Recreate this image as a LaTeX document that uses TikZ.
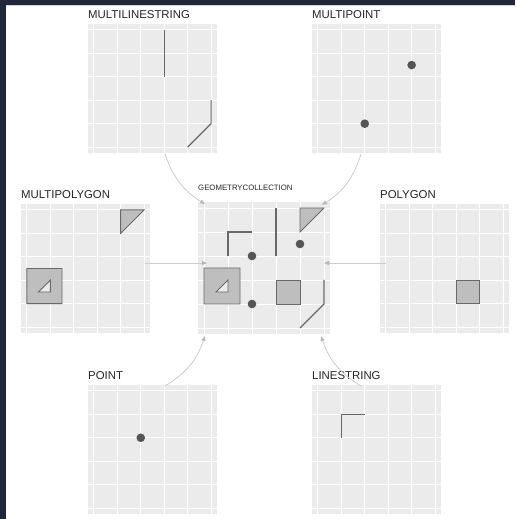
\documentclass[tikz,border=0pt]{standalone}
\usepackage{fontspec}
\setmainfont{Liberation Sans}
\usetikzlibrary{arrows.meta}
\definecolor{framenavy}{RGB}{34,39,58}
\definecolor{panelgrey}{RGB}{235,235,235}
\definecolor{geomgrey}{RGB}{105,105,105}
\definecolor{fillgrey}{RGB}{190,190,190}
\definecolor{dotgrey}{RGB}{85,85,85}
\definecolor{linkgrey}{RGB}{205,205,205}

% one ggplot-like panel: grey background, white grid, title on top
\newcommand{\geompanel}[3][]{%
  \fill[panelgrey] (-0.25,-0.25) rectangle (5.25,5.25);
  \foreach \k in {0,...,5} {
    \draw[gridline] (\k,-0.25) -- (\k,5.25);
    \draw[gridline] (-0.25,\k) -- (5.25,\k);
  }
  \node[paneltitle,#1] (#2) at (-0.25,5.25) {#3};
}

\begin{document}
\begin{tikzpicture}[x=1pt,y=1pt,
    gridline/.style={white, line width=0.9pt},
    paneltitle/.style={anchor=base west, inner sep=0pt, yshift=6pt, text=black!85,
                       font=\fontsize{11.4}{13}\selectfont},
    geomline/.style={geomgrey, line width=1.2pt},
    geompoly/.style={fill=fillgrey, draw=geomgrey, line width=0.9pt},
    geomdot/.style={fill=dotgrey},
    link/.style={linkgrey, line width=0.8pt, -{Triangle[length=5pt,width=4pt,color=black!28]}}]
  \useasboundingbox (0,0) rectangle (515,519);

  % Frame
  \fill[white] (0,0) rectangle (515,519);
  \fill[framenavy] (0,514) rectangle (515,519);
  \fill[framenavy] (0,0) rectangle (6,519);
  \draw[black!18, line width=0.8pt] (6,513.6) -- (515,513.6);

  % MULTILINESTRING
  \begin{scope}[xshift=93.86pt, yshift=371.86pt, x=23.45pt, y=23.45pt]
    \geompanel{mls-title}{MULTILINESTRING}
    \draw[geomline] (3,5) -- (3,3);
    \draw[geomline] (4,0) -- (5,1) -- (5,2);
  \end{scope}

  % MULTIPOINT
  \begin{scope}[xshift=317.86pt, yshift=371.86pt, x=23.45pt, y=23.45pt]
    \geompanel{mpt-title}{MULTIPOINT}
    \fill[geomdot] (2,1) circle[radius=4.3pt];
    \fill[geomdot] (4,3.5) circle[radius=4.3pt];
  \end{scope}

  % MULTIPOLYGON
  \begin{scope}[xshift=26.86pt, yshift=191.86pt, x=23.45pt, y=23.45pt]
    \geompanel{mpoly-title}{MULTIPOLYGON}
    \filldraw[geompoly] (4,5) -- (5,5) -- (4,4) -- cycle;
    \filldraw[geompoly, even odd rule] (0,1) rectangle (1.5,2.5)
      (0.5,1.5) -- (1,1.5) -- (1,2) -- cycle;
  \end{scope}

  % GEOMETRYCOLLECTION
  \begin{scope}[xshift=204pt, yshift=191pt, x=24pt, y=24pt]
    \geompanel[font=\fontsize{7.8}{9}\selectfont, yshift=5.5pt]{gc-title}{GEOMETRYCOLLECTION}
    \filldraw[geompoly] (4,5) -- (5,5) -- (4,4) -- cycle;
    \filldraw[geompoly, even odd rule] (0,1) rectangle (1.5,2.5)
      (0.5,1.5) -- (1,1.5) -- (1,2) -- cycle;
    \filldraw[geompoly] (3,1) rectangle (4,2);
    \draw[geomline] (3,5) -- (3,3);
    \draw[geomline] (4,0) -- (5,1) -- (5,2);
    \draw[geomline] (1,3) -- (1,4) -- (2,4);
    \fill[geomdot] (2,1) circle[radius=4.3pt];
    \fill[geomdot] (4,3.5) circle[radius=4.3pt];
    \fill[geomdot] (2,3) circle[radius=4.3pt];
  \end{scope}

  % POLYGON
  \begin{scope}[xshift=385.86pt, yshift=191.86pt, x=23.45pt, y=23.45pt]
    \geompanel{poly-title}{POLYGON}
    \filldraw[geompoly] (3,1) rectangle (4,2);
  \end{scope}

  % POINT
  \begin{scope}[xshift=93.86pt, yshift=10.86pt, x=23.45pt, y=23.45pt]
    \geompanel{pt-title}{POINT}
    \fill[geomdot] (2,3) circle[radius=4.3pt];
  \end{scope}

  % LINESTRING
  \begin{scope}[xshift=317.86pt, yshift=10.86pt, x=23.45pt, y=23.45pt]
    \geompanel{ls-title}{LINESTRING}
    \draw[geomline] (1,3) -- (1,4) -- (2,4);
  \end{scope}

  % Connector ends
  \coordinate (mls-out) at (165,365);
  \coordinate (mpt-out) at (361,365);
  \coordinate (mpoly-out) at (145,256);
  \coordinate (poly-out) at (386,256);
  \coordinate (pt-out) at (165,133);
  \coordinate (ls-out) at (361,133);
  \coordinate (gc-nw) at (205,315);
  \coordinate (gc-ne) at (322,314);
  \coordinate (gc-w) at (207,256);
  \coordinate (gc-e) at (324,256);
  \coordinate (gc-sw) at (205,183);
  \coordinate (gc-se) at (321,183);

  % Connectors
  \draw[link] (mls-out) to[bend right=20] (gc-nw);
  \draw[link] (mpt-out) to[bend left=20] (gc-ne);
  \draw[link] (mpoly-out) -- (gc-w);
  \draw[link] (poly-out) -- (gc-e);
  \draw[link] (pt-out) to[bend right=20] (gc-sw);
  \draw[link] (ls-out) to[bend left=20] (gc-se);
\end{tikzpicture}
\end{document}
